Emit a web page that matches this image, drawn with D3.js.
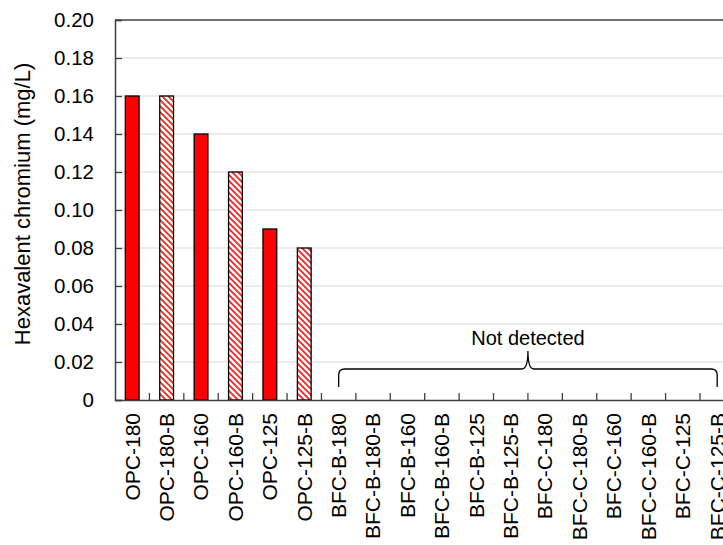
<!DOCTYPE html>
<html>
<head>
<meta charset="utf-8">
<script src="https://cdn.jsdelivr.net/npm/d3@7"></script>
<style>
  html, body { margin: 0; padding: 0; background: #fff; overflow: hidden; }
  svg { display: block; font-family: "Liberation Sans", Arial, sans-serif; }
</style>
</head>
<body>
<svg id="chart" width="723" height="545"></svg>
<script>
const categories = ["OPC-180","OPC-180-B","OPC-160","OPC-160-B","OPC-125","OPC-125-B",
  "BFC-B-180","BFC-B-180-B","BFC-B-160","BFC-B-160-B","BFC-B-125","BFC-B-125-B",
  "BFC-C-180","BFC-C-180-B","BFC-C-160","BFC-C-160-B","BFC-C-125","BFC-C-125-B"];
const values = [0.16, 0.16, 0.14, 0.12, 0.09, 0.08,
  null, null, null, null, null, null, null, null, null, null, null, null];
const hatched = [false, true, false, true, false, true,
  false, true, false, true, false, true, false, true, false, true, false, true];
const yTicks = [0, 0.02, 0.04, 0.06, 0.08, 0.10, 0.12, 0.14, 0.16, 0.18, 0.20];
const yTitle = "Hexavalent chromium (mg/L)";
const annotation = "Not detected";
const notDetectedFrom = "BFC-B-180";
const notDetectedTo = "BFC-C-125-B";

(function () {
const svg = d3.select("#chart");
const pL = 115, pR = 734.4, pT = 20, pB = 400;

const x = d3.scaleBand().domain(categories).range([pL, pR]).padding(0);
const y = d3.scaleLinear().domain([0, 0.20]).range([pB, pT]);

// hatch pattern
const defs = svg.append("defs");
const pat = defs.append("pattern")
  .attr("id", "hatch").attr("patternUnits", "userSpaceOnUse")
  .attr("width", 6).attr("height", 6);
pat.append("rect").attr("width", 6).attr("height", 6).attr("fill", "#fff");
pat.append("path").attr("d", "M0,0 L6,6 M-1,5 L1,7 M5,-1 L7,1")
  .attr("stroke", "#ff2020").attr("stroke-width", 1.8);

// gridlines
svg.append("g").selectAll("line")
  .data(yTicks.filter(d => d > 0 && d < 0.20))
  .join("line")
  .attr("x1", pL).attr("x2", 723)
  .attr("y1", d => y(d)).attr("y2", d => y(d))
  .attr("stroke", "#d9d9d9").attr("stroke-width", 1);

// top border
svg.append("line").attr("x1", pL).attr("x2", pR).attr("y1", y(0.20)).attr("y2", y(0.20))
  .attr("stroke", "#404040").attr("stroke-width", 1.5);

// bars
const bw = x.bandwidth() * 0.4;
svg.append("g").selectAll("rect")
  .data(categories.map((c, i) => ({c, v: values[i], h: hatched[i]})).filter(d => d.v != null))
  .join("rect")
  .attr("x", d => x(d.c) + (x.bandwidth() - bw) / 2)
  .attr("y", d => y(d.v))
  .attr("width", bw)
  .attr("height", d => y(0) - y(d.v))
  .attr("fill", d => d.h ? "url(#hatch)" : "#ff0000")
  .attr("stroke", "#000").attr("stroke-width", 1.3);

// y axis
const yAxis = svg.append("g").attr("transform", `translate(${pL},0)`)
  .call(d3.axisLeft(y).tickValues(yTicks).tickSize(-7).tickPadding(21)
    .tickFormat(d => d === 0 ? "0" : d3.format(".2f")(d)));
yAxis.select(".domain").attr("stroke", "#404040").attr("stroke-width", 1.5);
yAxis.selectAll(".tick line").attr("stroke", "#404040").attr("stroke-width", 1.3);
yAxis.selectAll(".tick text").attr("font-size", 20.5).attr("fill", "#000")
  .attr("font-family", "Liberation Sans, Arial, sans-serif");

// x axis
const xAxis = svg.append("g").attr("transform", `translate(0,${pB})`)
  .call(d3.axisBottom(x).tickSize(0).tickPadding(0));
xAxis.select(".domain").attr("stroke", "#404040").attr("stroke-width", 1.5);
xAxis.selectAll(".tick text")
  .attr("font-size", 21).attr("fill", "#000")
  .attr("font-family", "Liberation Sans, Arial, sans-serif")
  .attr("text-anchor", "end")
  .attr("transform", "translate(0,13) rotate(-90)")
  .attr("x", 0).attr("y", 0).attr("dy", "0.35em");
// category separator ticks
svg.append("g").selectAll("line")
  .data(categories.slice(1))
  .join("line")
  .attr("x1", d => x(d)).attr("x2", d => x(d))
  .attr("y1", pB).attr("y2", pB - 7)
  .attr("stroke", "#404040").attr("stroke-width", 1.3);

// y title
svg.append("text")
  .attr("transform", "translate(22,204) rotate(-90)")
  .attr("text-anchor", "middle").attr("dy", "0.35em")
  .attr("font-size", 22).attr("fill", "#000")
  .text(yTitle);

// brace
const x0 = x(notDetectedFrom) + x.bandwidth() / 2;
const x1 = x(notDetectedTo) + x.bandwidth() / 2;
const xm = (x0 + x1) / 2;
const yb = 387, yh = 369, yp = 351;
const r = 6;
const bracePath = `M${x0},${yb} L${x0},${yh + r} Q${x0},${yh} ${x0 + r},${yh} L${xm - r},${yh} Q${xm},${yh} ${xm},${yp}` +
  ` Q${xm},${yh} ${xm + r},${yh} L${x1 - r},${yh} Q${x1},${yh} ${x1},${yh + r} L${x1},${yb}`;
svg.append("path").attr("d", bracePath).attr("fill", "none")
  .attr("stroke", "#000").attr("stroke-width", 1.3);
svg.append("text").attr("x", xm).attr("y", 345)
  .attr("text-anchor", "middle").attr("font-size", 20).attr("fill", "#000")
  .text(annotation);
})();
</script>
</body>
</html>
